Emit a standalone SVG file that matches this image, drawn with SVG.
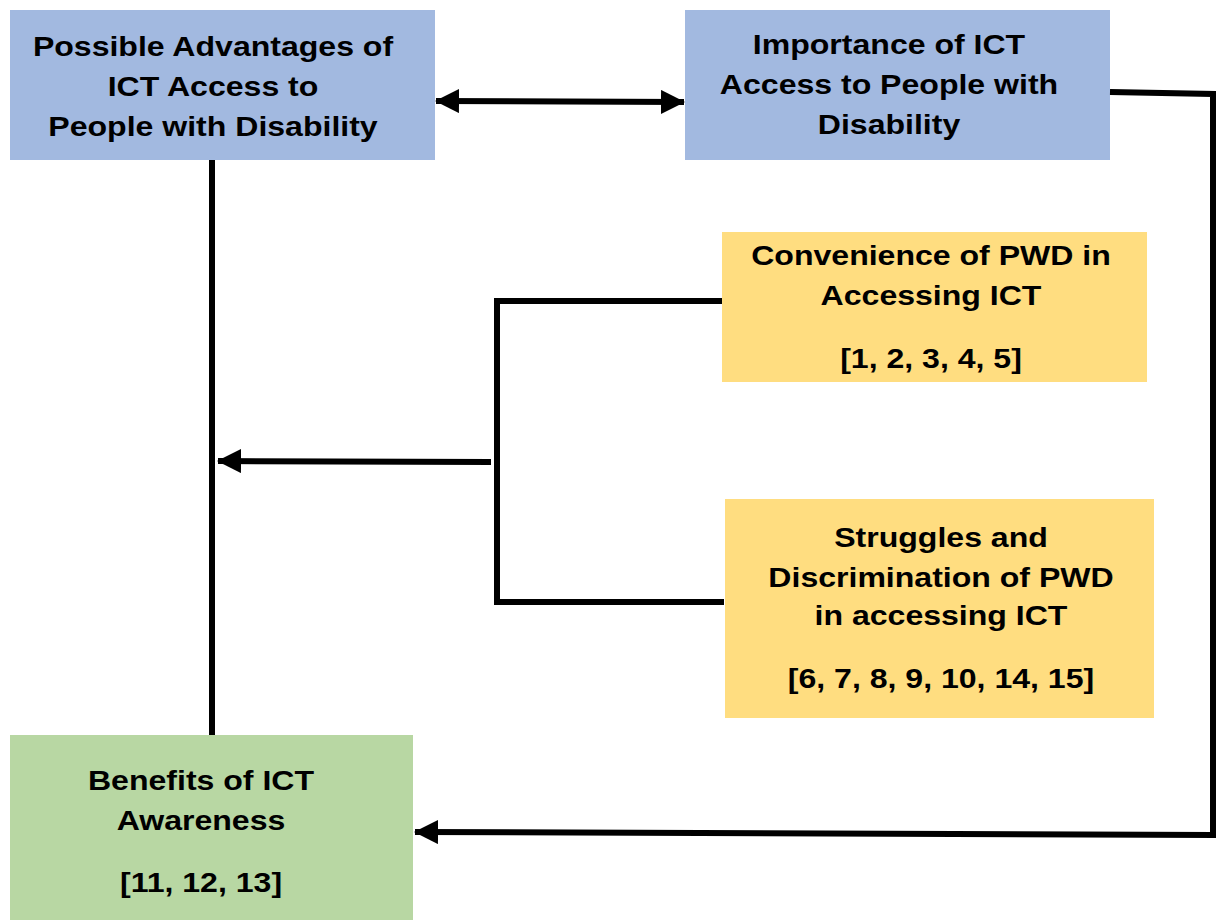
<svg xmlns="http://www.w3.org/2000/svg" width="1217" height="920" viewBox="0 0 1217 920">
<style>
.t{font-family:"Liberation Sans",Arial,sans-serif;font-weight:bold;font-size:28px;fill:#000;text-anchor:middle}
.blue{fill:#A2B9E0}
.yellow{fill:#FFDD80}
.green{fill:#B8D7A3}
.c{stroke:#000;stroke-width:6;fill:none}
</style>
<defs>
<marker id="ah" viewBox="0 0 24 24" refX="23" refY="12" markerWidth="24" markerHeight="24" markerUnits="userSpaceOnUse" orient="auto-start-reverse">
<path d="M0,0 L24,12 L0,24 L0,0 Z" fill="#000"/>
</marker>
</defs>
<rect width="1217" height="920" fill="#fff"/>
<g id="n1">
<rect class="blue" x="10" y="10" width="425" height="150"/>
<text class="t" transform="translate(213,56) scale(1.145,1)">Possible Advantages of</text>
<text class="t" transform="translate(213,96) scale(1.145,1)">ICT Access to</text>
<text class="t" transform="translate(213,136) scale(1.145,1)">People with Disability</text>
</g>
<g id="n2">
<rect class="blue" x="685" y="10" width="425" height="150"/>
<text class="t" transform="translate(889,54) scale(1.145,1)">Importance of ICT</text>
<text class="t" transform="translate(889,94) scale(1.145,1)">Access to People with</text>
<text class="t" transform="translate(889,134) scale(1.145,1)">Disability</text>
</g>
<g id="n3">
<rect class="yellow" x="722" y="232" width="425" height="150"/>
<text class="t" transform="translate(931,265) scale(1.145,1)">Convenience of PWD in</text>
<text class="t" transform="translate(931,305) scale(1.145,1)">Accessing ICT</text>
<text class="t" transform="translate(931,368) scale(1.145,1)">[1, 2, 3, 4, 5]</text>
</g>
<g id="n4">
<rect class="yellow" x="725" y="499" width="429" height="219"/>
<text class="t" transform="translate(941,547) scale(1.145,1)">Struggles and</text>
<text class="t" transform="translate(941,587) scale(1.145,1)">Discrimination of PWD</text>
<text class="t" transform="translate(941,625) scale(1.145,1)">in accessing ICT</text>
<text class="t" transform="translate(941,688) scale(1.145,1)">[6, 7, 8, 9, 10, 14, 15]</text>
</g>
<g id="n5">
<rect class="green" x="10" y="735" width="403" height="185"/>
<text class="t" transform="translate(201,790) scale(1.145,1)">Benefits of ICT</text>
<text class="t" transform="translate(201,830) scale(1.145,1)">Awareness</text>
<text class="t" transform="translate(201,892) scale(1.145,1)">[11, 12, 13]</text>
</g>
<g id="connectors">
<line class="c" x1="436" y1="101" x2="684" y2="102" marker-start="url(#ah)" marker-end="url(#ah)"/>
<line class="c" x1="212" y1="160" x2="212" y2="735"/>
<polyline class="c" points="722,301 497,301 497,602 724,602"/>
<line class="c" x1="491" y1="462" x2="218" y2="461" marker-end="url(#ah)"/>
<polyline class="c" points="1110,92 1213,94 1213,835 415,832" marker-end="url(#ah)"/>
</g>
</svg>
